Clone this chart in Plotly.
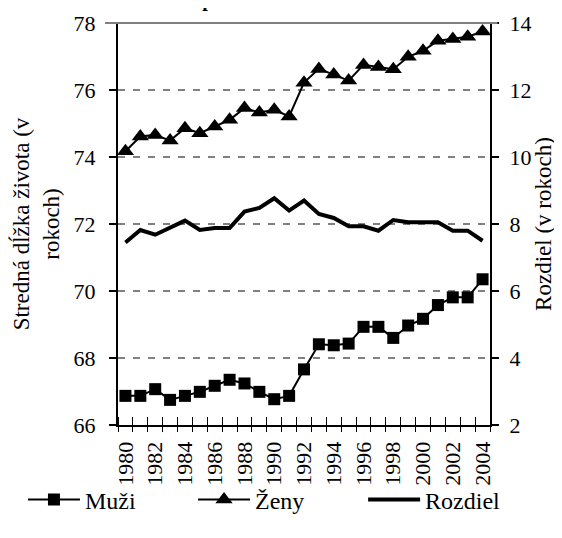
import plotly.graph_objects as go

years = list(range(1980, 2005))
muzi = [66.87, 66.87, 67.07, 66.75, 66.87, 66.99, 67.17, 67.35, 67.24, 66.99, 66.77, 66.87,
        67.66, 68.41, 68.38, 68.43, 68.93, 68.93, 68.60, 68.97, 69.17, 69.58, 69.81, 69.81, 70.35]
zeny = [74.17, 74.61, 74.66, 74.49, 74.86, 74.71, 74.91, 75.11, 75.46, 75.33, 75.41, 75.21,
        76.22, 76.63, 76.46, 76.28, 76.75, 76.69, 76.62, 76.99, 77.17, 77.47, 77.52, 77.59, 77.75]
rozdiel = [7.45, 7.82, 7.68, 7.88, 8.10, 7.82, 7.88, 7.88, 8.37, 8.48, 8.77, 8.40,
           8.70, 8.30, 8.18, 7.93, 7.93, 7.80, 8.12, 8.05, 8.05, 8.05, 7.80, 7.80, 7.50]
label_years = list(range(1980, 2005, 2))
left_ticks = [66, 68, 70, 72, 74, 76, 78]
right_ticks = [2, 4, 6, 8, 10, 12, 14]

FONT = "Liberation Serif"
TICK = 22
TITLE = 23
LEG = 24

fig = go.Figure()
fig.add_trace(go.Scatter(x=years, y=muzi, name="Muži", mode="lines+markers", legend="legend",
                         line=dict(color="black", width=2),
                         marker=dict(symbol="square", size=12, color="black")))
fig.add_trace(go.Scatter(x=years, y=zeny, name="Ženy", mode="lines+markers", legend="legend2",
                         line=dict(color="black", width=2),
                         marker=dict(symbol="triangle-up", size=15, color="black")))
fig.add_trace(go.Scatter(x=years, y=rozdiel, name="Rozdiel", mode="lines", legend="legend3",
                         line=dict(color="black", width=4), yaxis="y2"))

boundaries = [y - 0.5 for y in years] + [years[-1] + 0.5]

def leg(x):
    return dict(orientation="h", x=x, xanchor="left", xref="container",
                y=0.072, yanchor="middle", yref="container",
                font=dict(family=FONT, size=LEG), itemwidth=52, bgcolor="rgba(0,0,0,0)")

fig.update_layout(
    width=554, height=530,
    margin=dict(l=110, r=72, t=15, b=113),
    paper_bgcolor="white", plot_bgcolor="white",
    font=dict(family=FONT, size=TICK, color="black"),
    showlegend=True,
    legend=leg(0.027),
    legend2=leg(0.334),
    legend3=leg(0.641),
    xaxis=dict(range=[1979.5, 2004.5], tickmode="array", tickvals=label_years,
               ticktext=[str(y) for y in label_years], tickangle=-90, automargin=False,
               ticks="", showgrid=False, showline=True, linecolor="black", linewidth=2,
               zeroline=False, ticklabelstandoff=6,
               tickfont=dict(family=FONT, size=TICK),
               minor=dict(tickmode="array", tickvals=boundaries, ticks="inside",
                          ticklen=8, tickcolor="black", tickwidth=1, showgrid=False)),
    xaxis2=dict(range=[1979.5, 2004.5], overlaying="x", side="bottom", anchor="y",
                tickmode="array", tickvals=boundaries, showticklabels=False, automargin=False,
                ticks="outside", ticklen=6, tickcolor="black", tickwidth=1,
                showgrid=False, showline=False, zeroline=False),
    yaxis=dict(range=[66, 78], tickmode="array", tickvals=left_ticks, automargin=False,
               ticks="outside", ticklen=7, tickcolor="black", tickwidth=1.5,
               showline=True, linecolor="black", linewidth=2, ticklabelstandoff=9,
               showgrid=True, gridcolor="#808080", gridwidth=1.5, griddash="7px,8px",
               zeroline=False, tickfont=dict(family=FONT, size=TICK),
               title=dict(text="Stredná dĺžka života (v<br>rokoch)", font=dict(family=FONT, size=TITLE),
                          standoff=8)),
    yaxis2=dict(range=[2, 14], tickmode="array", tickvals=right_ticks, overlaying="y",
                side="right", ticks="outside", ticklen=7, tickcolor="black", tickwidth=1.5,
                showline=True, linecolor="black", linewidth=2, showgrid=False, zeroline=False,
                ticklabelstandoff=6, automargin=False, tickfont=dict(family=FONT, size=TICK),
                title=dict(text="Rozdiel (v rokoch)", font=dict(family=FONT, size=TITLE), standoff=0)),
)

fig.add_trace(go.Scatter(x=[years[0]], y=[muzi[0]], xaxis="x2", mode="markers",
                         marker=dict(opacity=0), showlegend=False, hoverinfo="skip"))

fig.add_shape(type="line", xref="paper", yref="paper", x0=-0.035, x1=1.02, y0=1, y1=1,
              line=dict(color="#808080", width=2))

fig.add_annotation(text="<b>Stredná dĺžka života pri narodení</b>", xref="paper", yref="paper",
                   x=0.13, y=1, xanchor="center", yanchor="bottom", yshift=10,
                   showarrow=False, font=dict(family=FONT, size=20, color="black"))

fig.write_html("out.html")
